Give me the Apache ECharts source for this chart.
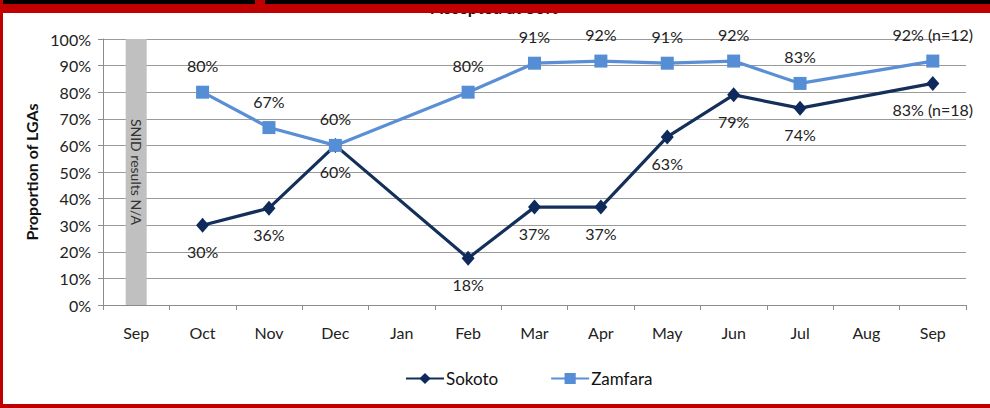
<!DOCTYPE html>
<html>
<head>
<meta charset="utf-8">
<script src="https://cdn.jsdelivr.net/npm/echarts@6/dist/echarts.min.js"></script>
<style>
  html, body { margin: 0; padding: 0; background: #fff; }
  #chart { width: 990px; height: 408px; }
</style>
</head>
<body>
<div id="chart"></div>
<script>
// months shown on the x axis (two Septembers, one year apart)
var months = ['Sep', 'Oct', 'Nov', 'Dec', 'Jan', 'Feb', 'Mar', 'Apr', 'May', 'Jun', 'Jul', 'Aug', 'Sep'];
// proportion of LGAs accepted at 80% (in %), null = no SNID that month
var sokoto  = [null, 30, 36.4, 60, null, 17.6, 36.8, 36.8, 63.2, 79, 74, null, 83.3];
var zamfara = [null, 80, 66.7, 60, null, 80, 90.9, 91.7, 90.9, 91.7, 83.3, null, 91.7];
// sample-size notes appended to the last labels
var sokotoNotes  = ['', '', '', '', '', '', '', '', '', '', '', '', ' (n=18)'];
var zamfaraNotes = ['', '', '', '', '', '', '', '', '', '', '', '', ' (n=12)'];
// grey "no results" bar for the first September
var naBar = [100, null, null, null, null, null, null, null, null, null, null, null, null];
var naText = 'SNID results N/A';

var FONT = 'Lato, "Open Sans", sans-serif';

function pctLabel(notes) {
  return function (p) { return Math.round(p.value) + '%' + notes[p.dataIndex]; };
}

var chart = echarts.init(document.getElementById('chart'), null, { renderer: 'svg' });
chart.setOption({
  animation: false,
  textStyle: { fontFamily: FONT },
  grid: { left: 103, right: 24, top: 39, bottom: 103 },
  legend: {
    data: ['Sokoto', 'Zamfara'],
    left: 400, top: 365,
    itemWidth: 38, itemHeight: 14, itemGap: 52,
    textStyle: { fontFamily: FONT, fontSize: 17, color: '#111', padding: [0, 0, 0, -3] }
  },
  xAxis: {
    type: 'category',
    data: months,
    boundaryGap: true,
    axisLine: { lineStyle: { color: '#8c8c8c', width: 1 } },
    axisTick: { show: true, length: 5, lineStyle: { color: '#8c8c8c' } },
    axisLabel: { fontFamily: FONT, fontSize: 16, color: '#222', margin: 19 }
  },
  yAxis: {
    type: 'value',
    min: 0, max: 100, interval: 10,
    name: 'Proportion of LGAs',
    nameLocation: 'middle', nameRotate: 90, nameGap: 63,
    nameTextStyle: { fontFamily: FONT, fontSize: 16, fontWeight: 'bold', color: '#111' },
    axisLine: { show: true, lineStyle: { color: '#8c8c8c', width: 1 } },
    axisTick: { show: true, length: 5, lineStyle: { color: '#8c8c8c' } },
    axisLabel: { fontFamily: FONT, fontSize: 16, color: '#222', margin: 12, formatter: '{value}%' },
    splitLine: { lineStyle: { color: '#9a9a9a', width: 1 } }
  },
  graphic: [
    { type: 'text', left: 'center', top: -1, z: 1,
      style: { text: 'Accepted at 80%', font: 'bold 17px ' + FONT, fill: '#111', x: 70 } },
    { type: 'rect', shape: { x: 0, y: 0, width: 990, height: 4 }, style: { fill: '#000' }, z: 100 },
    { type: 'rect', shape: { x: 0, y: 4, width: 990, height: 9 }, style: { fill: '#c00000' }, z: 100 },
    { type: 'rect', shape: { x: 255, y: 0, width: 10, height: 4 }, style: { fill: '#c00000' }, z: 100 },
    { type: 'rect', shape: { x: 0, y: 0, width: 3, height: 408 }, style: { fill: '#c00000' }, z: 100 },
    { type: 'rect', shape: { x: 0, y: 404, width: 990, height: 4 }, style: { fill: '#c00000' }, z: 100 }
  ],
  series: [
    {
      name: 'N/A',
      type: 'bar',
      data: naBar,
      barWidth: 21,
      z: 1,
      itemStyle: { color: '#c0c0c0' },
      label: {
        show: true, position: 'inside', rotate: -90,
        formatter: naText, fontFamily: FONT, fontSize: 14, color: '#333'
      }
    },
    {
      name: 'Sokoto',
      type: 'line',
      data: sokoto,
      connectNulls: true,
      symbol: 'diamond', symbolSize: [13, 15],
      lineStyle: { color: '#14305a', width: 3.2 },
      itemStyle: { color: '#0e2a5c' },
      z: 3,
      label: {
        show: true, position: 'bottom', distance: 11,
        formatter: pctLabel(sokotoNotes),
        fontFamily: FONT, fontSize: 16, color: '#222'
      }
    },
    {
      name: 'Zamfara',
      type: 'line',
      data: zamfara,
      connectNulls: true,
      symbol: 'rect', symbolSize: 13,
      lineStyle: { color: '#5a8fd6', width: 3.2 },
      itemStyle: { color: '#558ed5' },
      z: 4,
      label: {
        show: true, position: 'top', distance: 12,
        formatter: pctLabel(zamfaraNotes),
        fontFamily: FONT, fontSize: 16, color: '#222'
      }
    }
  ]
});
</script>
</body>
</html>
